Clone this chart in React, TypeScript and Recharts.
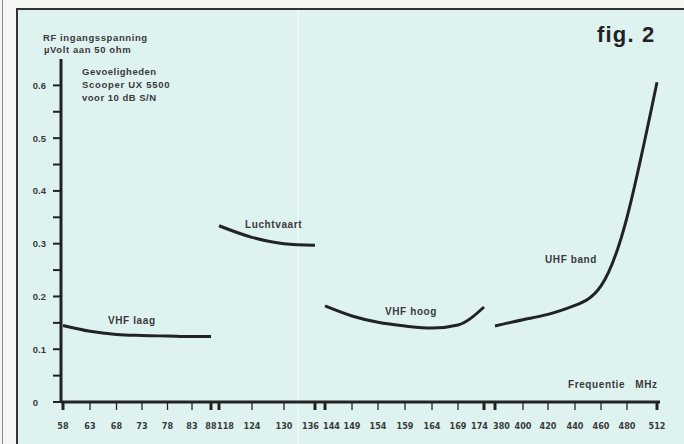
import React from "react";
import { Line, LineChart, XAxis, YAxis } from "recharts";

// frequency ticks along the hand-drawn, broken axis (MHz)
const FREQ_TICKS = [
  58, 63, 68, 73, 78, 83, 88, 118, 124, 130, 136, 144, 149, 154, 159, 164, 169, 174, 380, 400, 420,
  440, 460, 480, 512,
];
// where each tick sits along the axis (the drawing is not linear in MHz)
const TICK_OFFSETS = [
  0, 27, 53.5, 79, 104.5, 129, 148, 156, 189, 221, 252, 262, 289, 315, 342, 369, 395, 421, 432, 460,
  485, 512, 538, 564, 594,
];
const BAND_STARTS = [58, 118, 144, 380];
const BAND_ENDS = [88, 136, 174, 512];

const Y_TICKS = [0, 0.05, 0.1, 0.15, 0.2, 0.25, 0.3, 0.35, 0.4, 0.45, 0.5, 0.55, 0.6];

const VHF_LAAG_FREQ = [58, 63, 68, 73, 78, 83, 88];
const VHF_LAAG = [0.145, 0.134, 0.128, 0.126, 0.125, 0.124, 0.124];

const LUCHTVAART_FREQ = [118, 124, 130, 136];
const LUCHTVAART = [0.334, 0.312, 0.3, 0.297];

const VHF_HOOG_FREQ = [144, 149, 154, 159, 164, 169, 174];
const VHF_HOOG = [0.182, 0.163, 0.151, 0.144, 0.14, 0.146, 0.18];

const UHF_FREQ = [380, 400, 420, 440, 460, 480, 512];
const UHF = [0.144, 0.156, 0.166, 0.183, 0.22, 0.35, 0.606];

const INK = "#222";
const TEXT = "#3a3a3a";
const FONT = "'Liberation Sans', Arial, sans-serif";
const NARROW = "'Liberation Sans Narrow', 'DejaVu Sans Condensed', sans-serif";

const axisPos = (f: number) => TICK_OFFSETS[FREQ_TICKS.indexOf(f)];

const toPoints = (freqs: number[], vals: number[]) =>
  freqs.map((f, i) => ({ u: axisPos(f), v: vals[i] }));

function FreqTick(props: any) {
  const { x, y, payload } = props;
  const f = FREQ_TICKS[TICK_OFFSETS.indexOf(payload.value)];
  const start = BAND_STARTS.includes(f);
  const end = BAND_ENDS.includes(f);
  const edge = start || end;
  let anchor: "start" | "middle" | "end" = "middle";
  let tx = x;
  if (start && f !== 58) {
    anchor = "start";
    tx = x - 2;
  } else if (end && f !== 512 && f !== 88) {
    anchor = "end";
    tx = x + 4;
  }
  return (
    <g>
      <line x1={x} x2={x} y1={y} y2={y + 8} stroke={INK} strokeWidth={edge ? 3 : 1.3} />
      <text
        x={tx}
        y={y + 27}
        textAnchor={anchor}
        fontSize={9}
        fontWeight="bold"
        fontFamily={NARROW}
        fill={TEXT}
      >
        {f}
      </text>
    </g>
  );
}

function VoltTick(props: any) {
  const { x, y, payload } = props;
  const v = payload.value as number;
  const major = Math.round(v * 100) % 10 === 0;
  return (
    <g>
      <line x1={x - 8} x2={x} y1={y} y2={y} stroke={INK} strokeWidth={2} />
      {major ? (
        <text
          x={v === 0 ? x - 23 : x - 15}
          y={y + 3.5}
          textAnchor="end"
          fontSize={9.5}
          fontWeight="bold"
          fontFamily={FONT}
          fill={TEXT}
        >
          {v === 0 ? "0" : v.toFixed(1)}
        </text>
      ) : null}
    </g>
  );
}

const label = (left: number, top: number, size = 10, spacing = 0.5): React.CSSProperties => ({
  position: "absolute",
  left,
  top,
  fontSize: size,
  letterSpacing: spacing,
  fontWeight: "bold",
  fontFamily: FONT,
  color: TEXT,
  lineHeight: "13px",
  whiteSpace: "nowrap",
});

export default function App() {
  const series = [
    { key: "laag", pts: toPoints(VHF_LAAG_FREQ, VHF_LAAG), curve: "monotone" },
    { key: "lucht", pts: toPoints(LUCHTVAART_FREQ, LUCHTVAART), curve: "monotone" },
    { key: "hoog", pts: toPoints(VHF_HOOG_FREQ, VHF_HOOG), curve: "monotone" },
    { key: "uhf", pts: toPoints(UHF_FREQ, UHF), curve: "natural" },
  ];

  return (
    <div
      style={{
        position: "absolute",
        left: 0,
        top: 0,
        width: 684,
        height: 444,
        overflow: "hidden",
        background: "#f4f6f4",
      }}
    >
      <div style={{ position: "absolute", left: 2, top: 0, width: 1, height: 444, background: "#888" }} />
      <div
        style={{
          position: "absolute",
          left: 16,
          top: 8,
          width: 700,
          height: 460,
          borderLeft: "2px solid #333",
          borderTop: "2px solid #333",
          background: "#def3f0",
        }}
      />
      <div
        style={{ position: "absolute", left: 297, top: 10, width: 2, height: 440, background: "#e9f8f6" }}
      />

      <div style={{ position: "absolute", left: 0, top: 0 }}>
        <LineChart width={684} height={444} margin={{ top: 59, right: 24, bottom: 0, left: 0 }}>
          <XAxis
            type="number"
            dataKey="u"
            domain={[-2, 597]}
            ticks={TICK_OFFSETS}
            interval={0}
            height={42}
            tickSize={0}
            tickMargin={0}
            tick={<FreqTick />}
            axisLine={{ stroke: INK, strokeWidth: 3 }}
            allowDataOverflow
          />
          <YAxis
            type="number"
            dataKey="v"
            domain={[0, 0.65]}
            ticks={Y_TICKS}
            interval={0}
            width={61}
            tickSize={0}
            tickMargin={0}
            tick={<VoltTick />}
            axisLine={{ stroke: INK, strokeWidth: 3 }}
            allowDataOverflow
          />
          {series.map((s) => (
            <Line
              key={s.key}
              data={s.pts}
              dataKey="v"
              type={s.curve as any}
              stroke={INK}
              strokeWidth={3}
              dot={false}
              isAnimationActive={false}
            />
          ))}
        </LineChart>
      </div>

      <div style={label(43, 31, 9.5, 0.6)}>RF ingangsspanning</div>
      <div style={label(44, 43, 9.5, 0.6)}>µVolt aan 50 ohm</div>
      <div style={label(82, 65, 9.5, 0.5)}>Gevoeligheden</div>
      <div style={label(82, 78, 9.5, 0.7)}>Scooper UX 5500</div>
      <div style={label(82, 91, 9.5, 0.5)}>voor 10 dB S/N</div>
      <div style={{ ...label(597, 22, 22, 1.2), color: "#222", lineHeight: "26px" }}>fig. 2</div>

      <div style={label(108, 314, 10, 0.6)}>VHF laag</div>
      <div style={label(245, 218, 10, 0.6)}>Luchtvaart</div>
      <div style={label(385, 305, 10, 0.6)}>VHF hoog</div>
      <div style={label(545, 253, 10, 0.6)}>UHF band</div>
      <div style={label(568, 378, 10, 0.6)}>Frequentie&nbsp;&nbsp;&nbsp;MHz</div>
    </div>
  );
}
